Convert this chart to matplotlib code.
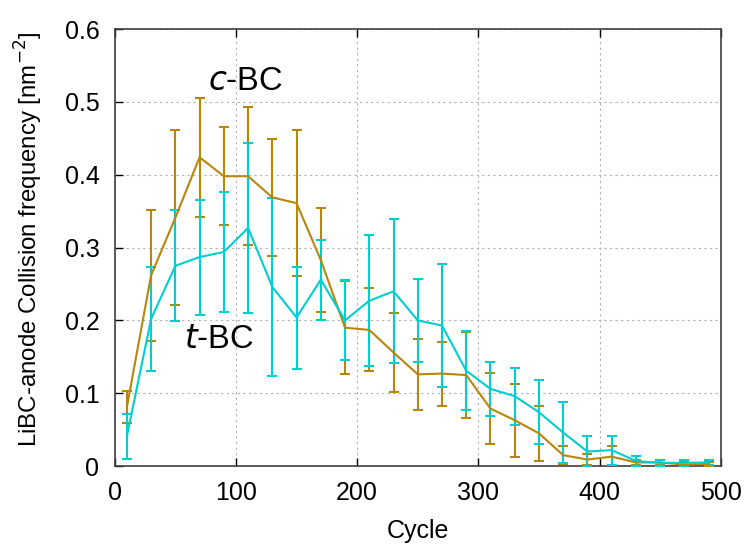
import matplotlib
matplotlib.use('Agg')
import matplotlib.pyplot as plt

plt.rcParams['font.family'] = ['Liberation Sans', 'DejaVu Sans']

cycle = [10, 30, 50, 70, 90, 110, 130, 150, 170, 190, 210, 230, 250,
         270, 290, 310, 330, 350, 370, 390, 410, 430, 450, 470, 490]

# c-BC
c_bc = [0.081, 0.262, 0.341, 0.424, 0.398, 0.398, 0.369, 0.361, 0.283, 0.190,
        0.187, 0.156, 0.126, 0.127, 0.125, 0.079, 0.063, 0.045, 0.015, 0.009,
        0.013, 0.005, 0.005, 0.002, 0.003]
c_bc_err = [0.022, 0.090, 0.120, 0.082, 0.067, 0.095, 0.080, 0.100, 0.071, 0.064,
            0.057, 0.054, 0.049, 0.044, 0.059, 0.049, 0.050, 0.038, 0.012, 0.007,
            0.015, 0.004, 0.004, 0.003, 0.003]

# t-BC
t_bc = [0.041, 0.202, 0.275, 0.287, 0.294, 0.327, 0.246, 0.204, 0.256, 0.200,
        0.227, 0.240, 0.200, 0.193, 0.131, 0.106, 0.096, 0.074, 0.046, 0.020,
        0.022, 0.007, 0.0045, 0.0045, 0.005]
t_bc_err = [0.031, 0.072, 0.076, 0.079, 0.083, 0.117, 0.122, 0.070, 0.055, 0.055,
            0.090, 0.099, 0.057, 0.084, 0.054, 0.037, 0.039, 0.044, 0.042, 0.021,
            0.020, 0.007, 0.004, 0.004, 0.003]

gold = '#b8860b'
cyan = '#00ced1'

fig = plt.figure(figsize=(7.5, 5.49), dpi=100, facecolor='white')
ax = fig.add_axes([0.153, 0.151, 0.808, 0.796])

ax.errorbar(cycle, c_bc, yerr=c_bc_err, color=gold, lw=1.5, elinewidth=1.5,
            capsize=3.5, capthick=1.5, zorder=3)
ax.errorbar(cycle, t_bc, yerr=t_bc_err, color=cyan, lw=1.5, elinewidth=1.5,
            capsize=3.5, capthick=1.5, zorder=3)

ax.text(108, 0.528, r'$\it{c}$-BC', fontsize=23.5, ha='center', va='center')
ax.text(86, 0.174, r'$\it{t}$-BC', fontsize=23.5, ha='center', va='center')

ax.set_xlim(0, 500)
ax.set_ylim(0, 0.6)
ax.set_xticks([0, 100, 200, 300, 400, 500])
ax.set_yticks([0, 0.1, 0.2, 0.3, 0.4, 0.5, 0.6])
ax.set_yticklabels(['0', '0.1', '0.2', '0.3', '0.4', '0.5', '0.6'])
ax.tick_params(direction='in', length=6, width=1, labelsize=18, top=True,
               colors='black')
ax.tick_params(axis='x', pad=11)
ax.tick_params(axis='y', pad=11)
ax.grid(True, color='#b0b0b0', linestyle=(0, (2, 3)), lw=0.8)
for s in ax.spines.values():
    s.set_linewidth(1.2)
    s.set_color('#404040')

ax.set_xlabel('Cycle', fontsize=18)
ax.set_ylabel('LiBC-anode Collision frequency [nm$^{-2}$]', fontsize=17.3)
ax.xaxis.set_label_coords(0.5, -0.12)
ax.yaxis.set_label_coords(-0.115, 0.52)

fig.savefig('out.png', dpi=100)
